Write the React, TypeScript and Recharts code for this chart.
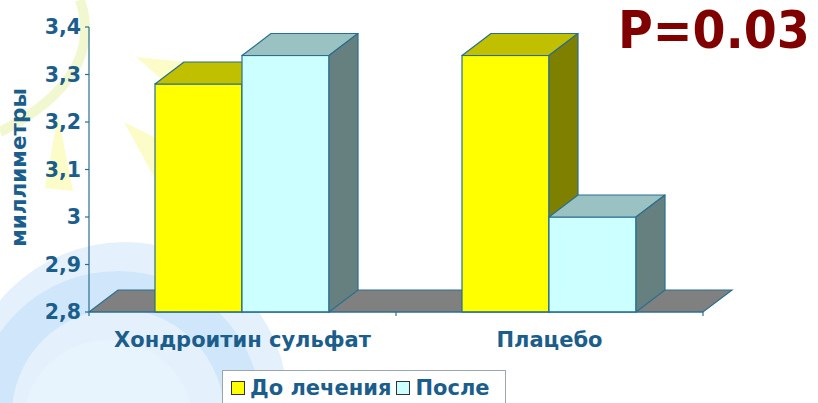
import React from 'react';
import { BarChart, Bar, XAxis, YAxis, ReferenceArea, Legend } from 'recharts';

const categories = ['Хондроитин сульфат', 'Плацебо'];
const beforeValues = [3.28, 3.34];
const afterValues = [3.34, 3.0];
const seriesNames = ['До лечения', 'После'];
const yTicks = [2.8, 2.9, 3, 3.1, 3.2, 3.3, 3.4];
const yTitle = 'миллиметры';
const pValueText = 'P=0.03';

const data = categories.map((name, i) => ({
  name,
  before: beforeValues[i],
  after: afterValues[i],
}));

const FONT = '"DejaVu Sans", Verdana, sans-serif';
const BLUE = '#1b5e8c';
const EDGE = '#2a6f8f';
// depth of the pseudo-3D boxes
const DX = 29;
const DY = 22;

const yellow = { front: '#ffff00', top: '#c0c000', side: '#808000' };
const cyan = { front: '#ccffff', top: '#9bc2c2', side: '#668080' };

const Box3D = (props: any) => {
  const { x, y, width, height, colors } = props;
  if (x == null || y == null) return null;
  const r = x + width;
  const b = y + height;
  return (
    <g>
      <rect x={x} y={y} width={width} height={height} fill={colors.front} stroke={EDGE} strokeWidth={1.2} />
      <path
        d={`M${x},${y} L${x + DX},${y - DY} L${r + DX},${y - DY} L${r},${y} Z`}
        fill={colors.top}
        stroke={EDGE}
        strokeWidth={1.2}
        strokeLinejoin="round"
      />
      <path
        d={`M${r},${y} L${r + DX},${y - DY} L${r + DX},${b - DY} L${r},${b} Z`}
        fill={colors.side}
        stroke={EDGE}
        strokeWidth={1.2}
        strokeLinejoin="round"
      />
    </g>
  );
};

// grey floor under the bars plus the category separator ticks
const Floor = (props: any) => {
  const { x, y, width, height } = props;
  const front = y + (height || 0);
  const back = front - DY;
  const n = categories.length;
  return (
    <g>
      <path
        d={`M${x},${front} L${x + DX},${back} L${x + width + DX},${back} L${x + width},${front} Z`}
        fill="#808080"
        stroke={EDGE}
        strokeWidth={1.2}
      />
      {Array.from({ length: n + 1 }, (_, i) => (
        <line
          key={i}
          x1={x + (width * i) / n}
          x2={x + (width * i) / n}
          y1={front}
          y2={front + 4}
          stroke={EDGE}
          strokeWidth={1.2}
        />
      ))}
    </g>
  );
};

const LegendBox = ({ payload }: any) => (
  <div
    style={{
      border: '1px solid #9aa6ac',
      background: '#fff',
      height: 46,
      boxSizing: 'border-box',
      display: 'flex',
      alignItems: 'flex-start',
      paddingLeft: 8,
      paddingTop: 9,
      fontFamily: FONT,
      fontWeight: 'bold',
      fontSize: 21,
      color: BLUE,
      lineHeight: '16px',
      whiteSpace: 'nowrap',
    }}
  >
    {(payload || []).map((p: any, i: number) => (
      <span key={i} style={{ display: 'flex', alignItems: 'center', marginRight: 5 }}>
        <span
          style={{
            width: 12,
            height: 12,
            background: p.color,
            border: '1px solid #333',
            marginRight: 5,
            display: 'inline-block',
          }}
        />
        {p.value}
      </span>
    ))}
  </div>
);

const YTitle = (props: any) => {
  const vb = props.viewBox || { x: 0, y: 27, height: 285 };
  const cy = vb.y + vb.height / 2 - 2;
  return (
    <text
      transform={`translate(26,${cy}) rotate(-90)`}
      textAnchor="middle"
      fill={BLUE}
      fontFamily={FONT}
      fontWeight="bold"
      fontSize={21.5}
    >
      {yTitle}
    </text>
  );
};

const fmt = (v: number) => String(Number(v.toFixed(1))).replace('.', ',');

export default function App() {
  return (
    <div style={{ position: 'absolute', left: 0, top: 0, width: 818, height: 403, overflow: 'hidden', background: '#fff' }}>
      {/* decorative background */}
      <svg width={818} height={403} style={{ position: 'absolute', left: 0, top: 0 }}>
        <circle cx={125} cy={405} r={163} fill="#e4f1fc" />
        <circle cx={118} cy={415} r={125} fill="none" stroke="#d0e7fb" strokeWidth={38} />
        <circle cx={108} cy={425} r={85} fill="#e8f4fd" />
        <path d="M80,0 C97,50 72,95 0,132" fill="none" stroke="#f1f8d0" strokeWidth={10} />
        <polygon points="58,115 45,188 73,191" fill="#fcfcc9" />
        <polygon points="136,57 185,62 165,82" fill="#fcfcc9" />
        <polygon points="124,122 160,140 160,188" fill="#fcfcc9" />
      </svg>
      <div style={{ position: 'absolute', left: 0, top: 0 }}>
        <BarChart
          width={818}
          height={403}
          data={data}
          margin={{ top: 27, right: 115, bottom: 61, left: 0 }}
          barCategoryGap="21.5%"
          barGap={0}
        >
          <ReferenceArea y1={yTicks[0]} y2={yTicks[0]} shape={<Floor />} ifOverflow="visible" />
          <XAxis
            dataKey="name"
            height={30}
            tickLine={false}
            tickSize={6}
            tickMargin={14}
            axisLine={{ stroke: EDGE, strokeWidth: 1.2 }}
            tick={{ fill: BLUE, fontSize: 21, fontWeight: 'bold', fontFamily: FONT }}
          />
          <YAxis
            width={89}
            domain={[yTicks[0], yTicks[yTicks.length - 1]]}
            ticks={yTicks}
            tickFormatter={fmt}
            tickSize={4}
            tickMargin={4}
            axisLine={{ stroke: EDGE, strokeWidth: 1.2 }}
            tickLine={{ stroke: EDGE, strokeWidth: 1.2 }}
            tick={{ fill: BLUE, fontSize: 20.5, fontWeight: 'bold', fontFamily: FONT }}
            label={{ content: <YTitle /> }}
          />
          <Bar
            dataKey="before"
            name={seriesNames[0]}
            fill={yellow.front}
            isAnimationActive={false}
            shape={(p: any) => <Box3D {...p} colors={yellow} />}
          />
          <Bar
            dataKey="after"
            name={seriesNames[1]}
            fill={cyan.front}
            isAnimationActive={false}
            shape={(p: any) => <Box3D {...p} colors={cyan} />}
          />
          <Legend
            layout="vertical"
            align="center"
            verticalAlign="middle"
            wrapperStyle={{ left: 222, top: 370, width: 284, height: 46 }}
            content={<LegendBox />}
          />
        </BarChart>
      </div>
      <svg width={818} height={403} style={{ position: 'absolute', left: 0, top: 0, pointerEvents: 'none' }}>
        <text
          transform="translate(618,47.5) scale(1,1.1)"
          fontFamily={FONT}
          fontWeight="bold"
          fontSize={47.5}
          fill="#800000"
        >
          {pValueText}
        </text>
      </svg>
    </div>
  );
}
